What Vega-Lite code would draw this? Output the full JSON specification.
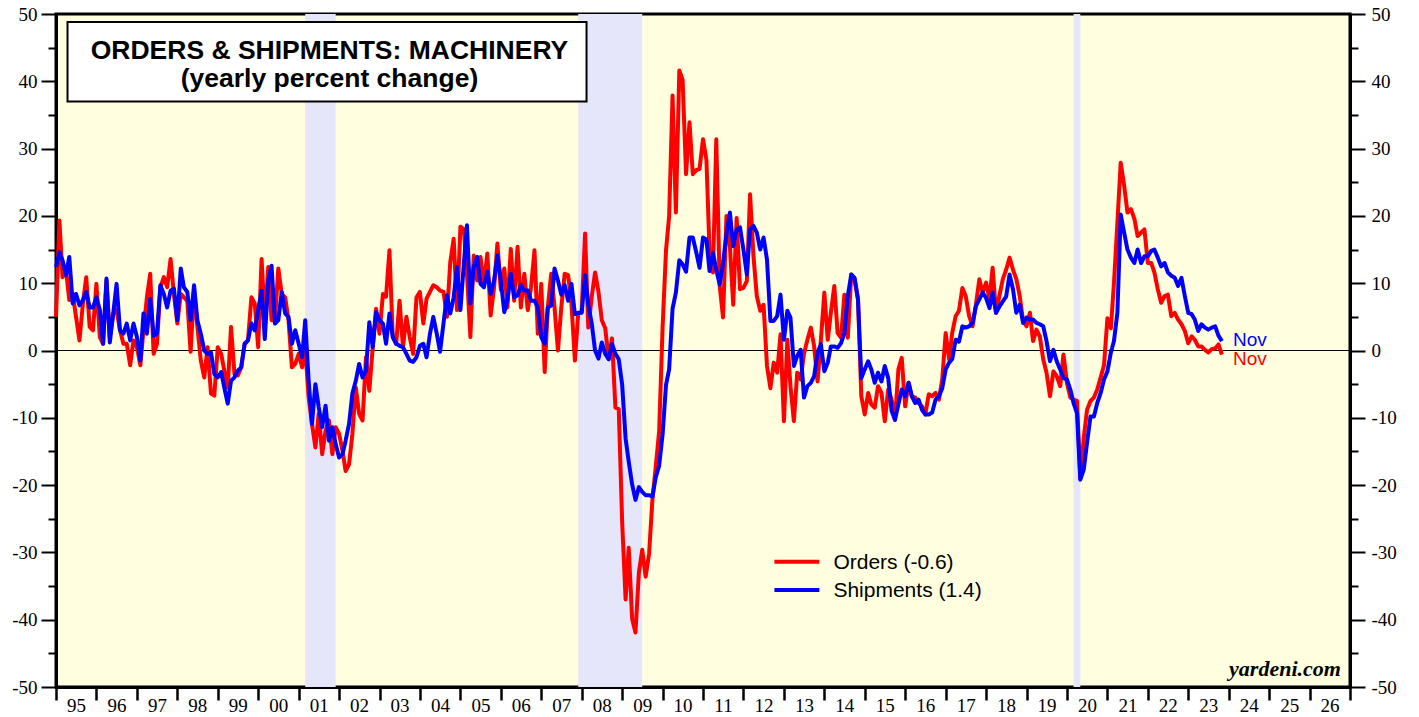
{
  "$schema": "https://vega.github.io/schema/vega-lite/v6.json",
  "autosize": {"type": "none"},
  "padding": {"left": 56, "top": 14, "right": 69, "bottom": 30},
  "width": 1294,
  "height": 673,
  "background": "white",
  "config": {
    "view": {"stroke": "black", "strokeWidth": 3, "fill": "#FFFFE0"}
  },
  "data": {
    "format": {"parse": {"date": "utc:'%Y-%m'"}},
    "values": [
      {"date":"1995-01","Orders":5,"Shipments":12.4},{"date":"1995-02","Orders":19.3,"Shipments":14.6},{"date":"1995-03","Orders":10.9,"Shipments":13.4},{"date":"1995-04","Orders":12,"Shipments":11.2},{"date":"1995-05","Orders":7.5,"Shipments":13.9},{"date":"1995-06","Orders":8.4,"Shipments":7},{"date":"1995-07","Orders":5,"Shipments":8.4},{"date":"1995-08","Orders":1.5,"Shipments":6.7},{"date":"1995-09","Orders":7,"Shipments":7.5},{"date":"1995-10","Orders":10.9,"Shipments":8.7},{"date":"1995-11","Orders":3.5,"Shipments":6.4},{"date":"1995-12","Orders":3,"Shipments":6.4},
      {"date":"1996-01","Orders":9.9,"Shipments":7.9},{"date":"1996-02","Orders":2,"Shipments":6},{"date":"1996-03","Orders":1,"Shipments":1},{"date":"1996-04","Orders":10.4,"Shipments":10.7},{"date":"1996-05","Orders":2,"Shipments":1.2},{"date":"1996-06","Orders":5.5,"Shipments":5.5},{"date":"1996-07","Orders":6,"Shipments":9.9},{"date":"1996-08","Orders":3,"Shipments":3},{"date":"1996-09","Orders":1,"Shipments":2.5},{"date":"1996-10","Orders":1,"Shipments":4},{"date":"1996-11","Orders":-2.2,"Shipments":1.5},{"date":"1996-12","Orders":1.5,"Shipments":4},
      {"date":"1997-01","Orders":0.5,"Shipments":2},{"date":"1997-02","Orders":-2.2,"Shipments":-1.5},{"date":"1997-03","Orders":3,"Shipments":5.5},{"date":"1997-04","Orders":7.9,"Shipments":2.5},{"date":"1997-05","Orders":11.4,"Shipments":7.7},{"date":"1997-06","Orders":-0.5,"Shipments":2.2},{"date":"1997-07","Orders":1,"Shipments":2.5},{"date":"1997-08","Orders":9.4,"Shipments":9.7},{"date":"1997-09","Orders":10.9,"Shipments":8.4},{"date":"1997-10","Orders":9.4,"Shipments":6.4},{"date":"1997-11","Orders":13.6,"Shipments":8.9},{"date":"1997-12","Orders":8.4,"Shipments":9.2},
      {"date":"1998-01","Orders":4,"Shipments":4.5},{"date":"1998-02","Orders":8.4,"Shipments":12.2},{"date":"1998-03","Orders":7.9,"Shipments":9.4},{"date":"1998-04","Orders":7.4,"Shipments":8.7},{"date":"1998-05","Orders":-0.2,"Shipments":4.5},{"date":"1998-06","Orders":9,"Shipments":9.7},{"date":"1998-07","Orders":3.5,"Shipments":4.5},{"date":"1998-08","Orders":-1.5,"Shipments":2.5},{"date":"1998-09","Orders":-4,"Shipments":0},{"date":"1998-10","Orders":0.5,"Shipments":-0.5},{"date":"1998-11","Orders":-6.4,"Shipments":-0.3},{"date":"1998-12","Orders":-6.7,"Shipments":-3.5},
      {"date":"1999-01","Orders":0.5,"Shipments":-4},{"date":"1999-02","Orders":-0.5,"Shipments":-3.2},{"date":"1999-03","Orders":-3,"Shipments":-5.5},{"date":"1999-04","Orders":-5.5,"Shipments":-7.9},{"date":"1999-05","Orders":3.5,"Shipments":-4.5},{"date":"1999-06","Orders":-3.5,"Shipments":-4},{"date":"1999-07","Orders":-3.7,"Shipments":-3},{"date":"1999-08","Orders":-2.5,"Shipments":-2.5},{"date":"1999-09","Orders":1,"Shipments":1},{"date":"1999-10","Orders":1.5,"Shipments":1.5},{"date":"1999-11","Orders":7.9,"Shipments":4},{"date":"1999-12","Orders":7,"Shipments":3},
      {"date":"2000-01","Orders":0.5,"Shipments":6},{"date":"2000-02","Orders":13.6,"Shipments":8.9},{"date":"2000-03","Orders":4.5,"Shipments":1.7},{"date":"2000-04","Orders":12.4,"Shipments":10.4},{"date":"2000-05","Orders":4.5,"Shipments":12.6},{"date":"2000-06","Orders":4.5,"Shipments":4},{"date":"2000-07","Orders":12.2,"Shipments":4.5},{"date":"2000-08","Orders":8.4,"Shipments":8.7},{"date":"2000-09","Orders":7.9,"Shipments":5.5},{"date":"2000-10","Orders":4.5,"Shipments":5},{"date":"2000-11","Orders":-2.5,"Shipments":1},{"date":"2000-12","Orders":-2,"Shipments":3},
      {"date":"2001-01","Orders":-0.5,"Shipments":1},{"date":"2001-02","Orders":-2.5,"Shipments":-1},{"date":"2001-03","Orders":0.5,"Shipments":4.5},{"date":"2001-04","Orders":-7,"Shipments":-4.5},{"date":"2001-05","Orders":-10.9,"Shipments":-10.9},{"date":"2001-06","Orders":-14.4,"Shipments":-5},{"date":"2001-07","Orders":-9.4,"Shipments":-8.4},{"date":"2001-08","Orders":-15.4,"Shipments":-11.4},{"date":"2001-09","Orders":-11.9,"Shipments":-8.2},{"date":"2001-10","Orders":-10.4,"Shipments":-13.4},{"date":"2001-11","Orders":-15.4,"Shipments":-11.4},{"date":"2001-12","Orders":-11.4,"Shipments":-13.9},
      {"date":"2002-01","Orders":-12.4,"Shipments":-15.9},{"date":"2002-02","Orders":-14.9,"Shipments":-15.4},{"date":"2002-03","Orders":-17.9,"Shipments":-13.4},{"date":"2002-04","Orders":-16.9,"Shipments":-10.9},{"date":"2002-05","Orders":-12.4,"Shipments":-6.4},{"date":"2002-06","Orders":-5.5,"Shipments":-4.5},{"date":"2002-07","Orders":-9.4,"Shipments":-2},{"date":"2002-08","Orders":-10.4,"Shipments":-4},{"date":"2002-09","Orders":-1,"Shipments":-3},{"date":"2002-10","Orders":-6,"Shipments":4.2},{"date":"2002-11","Orders":0.5,"Shipments":0.5},{"date":"2002-12","Orders":6.2,"Shipments":5.7},
      {"date":"2003-01","Orders":2.5,"Shipments":4.5},{"date":"2003-02","Orders":8.4,"Shipments":4},{"date":"2003-03","Orders":8,"Shipments":1},{"date":"2003-04","Orders":14.9,"Shipments":5.5},{"date":"2003-05","Orders":2,"Shipments":2},{"date":"2003-06","Orders":1,"Shipments":1},{"date":"2003-07","Orders":7.4,"Shipments":0.7},{"date":"2003-08","Orders":0.5,"Shipments":0.5},{"date":"2003-09","Orders":5,"Shipments":-0.5},{"date":"2003-10","Orders":2,"Shipments":-1.5},{"date":"2003-11","Orders":-0.5,"Shipments":-1.7},{"date":"2003-12","Orders":7.9,"Shipments":-1},
      {"date":"2004-01","Orders":8.7,"Shipments":0.7},{"date":"2004-02","Orders":4,"Shipments":1},{"date":"2004-03","Orders":7.7,"Shipments":-1},{"date":"2004-04","Orders":8.7,"Shipments":2.5},{"date":"2004-05","Orders":9.7,"Shipments":5},{"date":"2004-06","Orders":9.4,"Shipments":2.5},{"date":"2004-07","Orders":8.9,"Shipments":-0.2},{"date":"2004-08","Orders":8.7,"Shipments":4},{"date":"2004-09","Orders":5,"Shipments":8.2},{"date":"2004-10","Orders":13.1,"Shipments":5.5},{"date":"2004-11","Orders":16.6,"Shipments":7.9},{"date":"2004-12","Orders":6,"Shipments":12.4},
      {"date":"2005-01","Orders":18.4,"Shipments":6},{"date":"2005-02","Orders":18,"Shipments":12.9},{"date":"2005-03","Orders":11.4,"Shipments":18.6},{"date":"2005-04","Orders":2,"Shipments":7},{"date":"2005-05","Orders":14.1,"Shipments":12.4},{"date":"2005-06","Orders":10.4,"Shipments":13.9},{"date":"2005-07","Orders":13.9,"Shipments":9.9},{"date":"2005-08","Orders":9.9,"Shipments":9.4},{"date":"2005-09","Orders":14.4,"Shipments":11.7},{"date":"2005-10","Orders":5.2,"Shipments":8.4},{"date":"2005-11","Orders":9.4,"Shipments":10.4},{"date":"2005-12","Orders":15.9,"Shipments":14.1},
      {"date":"2006-01","Orders":9,"Shipments":10.4},{"date":"2006-02","Orders":12.2,"Shipments":5.7},{"date":"2006-03","Orders":6.4,"Shipments":7.4},{"date":"2006-04","Orders":15.1,"Shipments":11.4},{"date":"2006-05","Orders":7.4,"Shipments":7.9},{"date":"2006-06","Orders":15.4,"Shipments":8.2},{"date":"2006-07","Orders":6.4,"Shipments":9.7},{"date":"2006-08","Orders":11.4,"Shipments":8.9},{"date":"2006-09","Orders":6,"Shipments":8.9},{"date":"2006-10","Orders":9.4,"Shipments":7.4},{"date":"2006-11","Orders":14.9,"Shipments":7.4},{"date":"2006-12","Orders":2.5,"Shipments":6.4},
      {"date":"2007-01","Orders":9.9,"Shipments":2},{"date":"2007-02","Orders":-3.2,"Shipments":1},{"date":"2007-03","Orders":6.4,"Shipments":6.4},{"date":"2007-04","Orders":11.4,"Shipments":6.7},{"date":"2007-05","Orders":6.4,"Shipments":12.2},{"date":"2007-06","Orders":0,"Shipments":10.4},{"date":"2007-07","Orders":6.4,"Shipments":8.3},{"date":"2007-08","Orders":11.4,"Shipments":9.7},{"date":"2007-09","Orders":11.2,"Shipments":7.4},{"date":"2007-10","Orders":6.9,"Shipments":9.9},{"date":"2007-11","Orders":-1.5,"Shipments":5.4},{"date":"2007-12","Orders":5.5,"Shipments":5.6},
      {"date":"2008-01","Orders":5.7,"Shipments":5.6},{"date":"2008-02","Orders":17.4,"Shipments":11.2},{"date":"2008-03","Orders":3.4,"Shipments":6.8},{"date":"2008-04","Orders":8,"Shipments":4},{"date":"2008-05","Orders":11.6,"Shipments":0},{"date":"2008-06","Orders":8.7,"Shipments":-1.2},{"date":"2008-07","Orders":4.5,"Shipments":1.2},{"date":"2008-08","Orders":3.3,"Shipments":-0.5},{"date":"2008-09","Orders":-1.3,"Shipments":-1.3},{"date":"2008-10","Orders":1.8,"Shipments":1},{"date":"2008-11","Orders":-8.5,"Shipments":-0.5},{"date":"2008-12","Orders":-8.7,"Shipments":-1.3},
      {"date":"2009-01","Orders":-25.6,"Shipments":-5.1},{"date":"2009-02","Orders":-37,"Shipments":-13.1},{"date":"2009-03","Orders":-29.3,"Shipments":-16.5},{"date":"2009-04","Orders":-39.9,"Shipments":-19.9},{"date":"2009-05","Orders":-41.9,"Shipments":-22.2},{"date":"2009-06","Orders":-33,"Shipments":-20.3},{"date":"2009-07","Orders":-29.6,"Shipments":-21},{"date":"2009-08","Orders":-33.6,"Shipments":-21.5},{"date":"2009-09","Orders":-30.2,"Shipments":-21.5},{"date":"2009-10","Orders":-22.2,"Shipments":-21.7},{"date":"2009-11","Orders":-17.1,"Shipments":-18.8},{"date":"2009-12","Orders":-12,"Shipments":-17.1},
      {"date":"2010-01","Orders":3.4,"Shipments":-12.5},{"date":"2010-02","Orders":14.9,"Shipments":-5.1},{"date":"2010-03","Orders":19.9,"Shipments":-2.8},{"date":"2010-04","Orders":37.9,"Shipments":6.2},{"date":"2010-05","Orders":20.5,"Shipments":8.6},{"date":"2010-06","Orders":41.6,"Shipments":13.4},{"date":"2010-07","Orders":40.2,"Shipments":12.8},{"date":"2010-08","Orders":26.2,"Shipments":11.7},{"date":"2010-09","Orders":33.9,"Shipments":16.8},{"date":"2010-10","Orders":26.2,"Shipments":16.8},{"date":"2010-11","Orders":26.8,"Shipments":14.6},{"date":"2010-12","Orders":27,"Shipments":12.3},
      {"date":"2011-01","Orders":31.4,"Shipments":16.8},{"date":"2011-02","Orders":28.3,"Shipments":16.5},{"date":"2011-03","Orders":14.9,"Shipments":11.8},{"date":"2011-04","Orders":11.6,"Shipments":14.5},{"date":"2011-05","Orders":31.4,"Shipments":12},{"date":"2011-06","Orders":9.6,"Shipments":9.8},{"date":"2011-07","Orders":4.9,"Shipments":13},{"date":"2011-08","Orders":20,"Shipments":17.3},{"date":"2011-09","Orders":15.5,"Shipments":20.5},{"date":"2011-10","Orders":6.8,"Shipments":15.5},{"date":"2011-11","Orders":19.7,"Shipments":18},{"date":"2011-12","Orders":9.1,"Shipments":18.3},
      {"date":"2012-01","Orders":9.3,"Shipments":15},{"date":"2012-02","Orders":10.3,"Shipments":11.3},{"date":"2012-03","Orders":23.2,"Shipments":18},{"date":"2012-04","Orders":14,"Shipments":18.5},{"date":"2012-05","Orders":8.1,"Shipments":17.5},{"date":"2012-06","Orders":5.9,"Shipments":15},{"date":"2012-07","Orders":6.8,"Shipments":16.8},{"date":"2012-08","Orders":-2.3,"Shipments":13.5},{"date":"2012-09","Orders":-5.6,"Shipments":4.4},{"date":"2012-10","Orders":-1.8,"Shipments":4.4},{"date":"2012-11","Orders":-3.3,"Shipments":5.1},{"date":"2012-12","Orders":2.4,"Shipments":8.3},
      {"date":"2013-01","Orders":-10.5,"Shipments":1.6},{"date":"2013-02","Orders":1.6,"Shipments":5.9},{"date":"2013-03","Orders":-5.3,"Shipments":4.9},{"date":"2013-04","Orders":-10.5,"Shipments":-2.3},{"date":"2013-05","Orders":-3.3,"Shipments":-0.8},{"date":"2013-06","Orders":-4.3,"Shipments":0.1},{"date":"2013-07","Orders":-0.5,"Shipments":-7},{"date":"2013-08","Orders":1.6,"Shipments":-5.3},{"date":"2013-09","Orders":3.4,"Shipments":-4.8},{"date":"2013-10","Orders":0.6,"Shipments":-3.8},{"date":"2013-11","Orders":-4.6,"Shipments":-0.3},{"date":"2013-12","Orders":1.6,"Shipments":0.9},
      {"date":"2014-01","Orders":8.6,"Shipments":-3.1},{"date":"2014-02","Orders":1.6,"Shipments":-1.8},{"date":"2014-03","Orders":5.6,"Shipments":0.6},{"date":"2014-04","Orders":9.6,"Shipments":0.6},{"date":"2014-05","Orders":2.6,"Shipments":0.4},{"date":"2014-06","Orders":1.9,"Shipments":1.1},{"date":"2014-07","Orders":8.3,"Shipments":2.6},{"date":"2014-08","Orders":1.9,"Shipments":8.1},{"date":"2014-09","Orders":11.3,"Shipments":11.3},{"date":"2014-10","Orders":10.6,"Shipments":10.8},{"date":"2014-11","Orders":7.6,"Shipments":7.6},{"date":"2014-12","Orders":-6.8,"Shipments":-4.1},
      {"date":"2015-01","Orders":-9.5,"Shipments":-2.8},{"date":"2015-02","Orders":-6.3,"Shipments":-1.6},{"date":"2015-03","Orders":-8,"Shipments":-2.8},{"date":"2015-04","Orders":-8.5,"Shipments":-4.8},{"date":"2015-05","Orders":-5.3,"Shipments":-3.3},{"date":"2015-06","Orders":-6.3,"Shipments":-4.6},{"date":"2015-07","Orders":-10.5,"Shipments":-2.3},{"date":"2015-08","Orders":-5.8,"Shipments":-4.1},{"date":"2015-09","Orders":-7.3,"Shipments":-9},{"date":"2015-10","Orders":-10.3,"Shipments":-10.3},{"date":"2015-11","Orders":-2.8,"Shipments":-8},{"date":"2015-12","Orders":-1.1,"Shipments":-5.8},
      {"date":"2016-01","Orders":-8.3,"Shipments":-6.8},{"date":"2016-02","Orders":-4.8,"Shipments":-4.8},{"date":"2016-03","Orders":-6.8,"Shipments":-6.8},{"date":"2016-04","Orders":-7,"Shipments":-7.8},{"date":"2016-05","Orders":-7.8,"Shipments":-7.3},{"date":"2016-06","Orders":-8.3,"Shipments":-8.8},{"date":"2016-07","Orders":-9.5,"Shipments":-9.5},{"date":"2016-08","Orders":-6.5,"Shipments":-9.5},{"date":"2016-09","Orders":-6.8,"Shipments":-9.2},{"date":"2016-10","Orders":-6.3,"Shipments":-7.3},{"date":"2016-11","Orders":-7.3,"Shipments":-6.8},{"date":"2016-12","Orders":-4.3,"Shipments":-5.6},
      {"date":"2017-01","Orders":2.6,"Shipments":-2.8},{"date":"2017-02","Orders":-1.3,"Shipments":-1.8},{"date":"2017-03","Orders":2.6,"Shipments":-1.3},{"date":"2017-04","Orders":5.1,"Shipments":1.6},{"date":"2017-05","Orders":5.9,"Shipments":1.3},{"date":"2017-06","Orders":9.3,"Shipments":3.6},{"date":"2017-07","Orders":8.1,"Shipments":3.4},{"date":"2017-08","Orders":5.1,"Shipments":3.6},{"date":"2017-09","Orders":3.6,"Shipments":4.1},{"date":"2017-10","Orders":6.8,"Shipments":6.6},{"date":"2017-11","Orders":10.6,"Shipments":7.6},{"date":"2017-12","Orders":8.6,"Shipments":8.6},
      {"date":"2018-01","Orders":10.1,"Shipments":7.8},{"date":"2018-02","Orders":7.6,"Shipments":6.3},{"date":"2018-03","Orders":12.3,"Shipments":8.6},{"date":"2018-04","Orders":5.6,"Shipments":5.6},{"date":"2018-05","Orders":8.1,"Shipments":6.5},{"date":"2018-06","Orders":10.6,"Shipments":7.3},{"date":"2018-07","Orders":12,"Shipments":8},{"date":"2018-08","Orders":13.8,"Shipments":11.3},{"date":"2018-09","Orders":12,"Shipments":9.1},{"date":"2018-10","Orders":10.6,"Shipments":5.6},{"date":"2018-11","Orders":8.1,"Shipments":6.8},{"date":"2018-12","Orders":4.4,"Shipments":4.1},
      {"date":"2019-01","Orders":3.6,"Shipments":4.9},{"date":"2019-02","Orders":5.6,"Shipments":4.6},{"date":"2019-03","Orders":1.4,"Shipments":4.6},{"date":"2019-04","Orders":3.1,"Shipments":4.1},{"date":"2019-05","Orders":2.1,"Shipments":3.9},{"date":"2019-06","Orders":-1.3,"Shipments":3.6},{"date":"2019-07","Orders":-3.3,"Shipments":1.4},{"date":"2019-08","Orders":-6.8,"Shipments":-1.6},{"date":"2019-09","Orders":-3.1,"Shipments":0.1},{"date":"2019-10","Orders":-3.8,"Shipments":-1.6},{"date":"2019-11","Orders":-5.3,"Shipments":-2.8},{"date":"2019-12","Orders":-0.6,"Shipments":-4.1},
      {"date":"2020-01","Orders":-4.8,"Shipments":-4.3},{"date":"2020-02","Orders":-7,"Shipments":-5.8},{"date":"2020-03","Orders":-7.3,"Shipments":-7.8},{"date":"2020-04","Orders":-7.5,"Shipments":-9.3},{"date":"2020-05","Orders":-19,"Shipments":-19.2},{"date":"2020-06","Orders":-13,"Shipments":-17.7},{"date":"2020-07","Orders":-8.8,"Shipments":-13.7},{"date":"2020-08","Orders":-7.5,"Shipments":-9.8},{"date":"2020-09","Orders":-7,"Shipments":-9.8},{"date":"2020-10","Orders":-5.8,"Shipments":-7.8},{"date":"2020-11","Orders":-4,"Shipments":-6.3},{"date":"2020-12","Orders":-2.2,"Shipments":-4.3},
      {"date":"2021-01","Orders":4.8,"Shipments":-3.1},{"date":"2021-02","Orders":3.3,"Shipments":-0.3},{"date":"2021-03","Orders":10,"Shipments":1.4},{"date":"2021-04","Orders":19,"Shipments":5.6},{"date":"2021-05","Orders":27.9,"Shipments":20.2},{"date":"2021-06","Orders":24.5,"Shipments":17.5},{"date":"2021-07","Orders":20.5,"Shipments":15},{"date":"2021-08","Orders":21,"Shipments":13.8},{"date":"2021-09","Orders":19.6,"Shipments":13},{"date":"2021-10","Orders":17,"Shipments":15},{"date":"2021-11","Orders":17.5,"Shipments":13},{"date":"2021-12","Orders":18,"Shipments":14},
      {"date":"2022-01","Orders":13,"Shipments":14},{"date":"2022-02","Orders":13,"Shipments":14.8},{"date":"2022-03","Orders":11.6,"Shipments":15},{"date":"2022-04","Orders":9.1,"Shipments":13.8},{"date":"2022-05","Orders":7.1,"Shipments":12.5},{"date":"2022-06","Orders":8.1,"Shipments":13},{"date":"2022-07","Orders":8.3,"Shipments":11.6},{"date":"2022-08","Orders":5.1,"Shipments":11.1},{"date":"2022-09","Orders":5.6,"Shipments":10.8},{"date":"2022-10","Orders":4.6,"Shipments":9.6},{"date":"2022-11","Orders":3.9,"Shipments":10.8},{"date":"2022-12","Orders":2.9,"Shipments":8.1},
      {"date":"2023-01","Orders":1.1,"Shipments":5.6},{"date":"2023-02","Orders":2.1,"Shipments":5.4},{"date":"2023-03","Orders":1.6,"Shipments":4.6},{"date":"2023-04","Orders":0.6,"Shipments":2.9},{"date":"2023-05","Orders":0.6,"Shipments":3.9},{"date":"2023-06","Orders":0.1,"Shipments":3.4},{"date":"2023-07","Orders":-0.3,"Shipments":3.1},{"date":"2023-08","Orders":0.2,"Shipments":3.4},{"date":"2023-09","Orders":0.3,"Shipments":3.6},{"date":"2023-10","Orders":0.9,"Shipments":2.2},{"date":"2023-11","Orders":-0.6,"Shipments":1.4}
    ]
  },
  "resolve": {"axis": {"x": "independent", "y": "independent"}},
  "layer": [
    {
      "data": {
        "format": {"parse": {"start": "utc:'%Y-%m'", "end": "utc:'%Y-%m'"}},
        "values": [
          {"start": "2001-03", "end": "2001-12"},
          {"start": "2007-12", "end": "2009-07"},
          {"start": "2020-03", "end": "2020-05"}
        ]
      },
      "mark": {"type": "rect", "fill": "#E6E6FA"},
      "encoding": {
        "x": {
          "field": "start", "type": "temporal",
          "scale": {"type": "utc", "domain": [{"year": 1995, "month": 1, "date": 1, "utc": true}, {"year": 2027, "month": 1, "date": 1, "utc": true}]},
          "axis": {
            "orient": "bottom", "title": null, "grid": false,
            "tickCount": 32,
            "format": "%y",
            "labelExpr": "datum.label === '27' ? '' : datum.label",
            "tickSize": 13, "tickWidth": 2.5, "tickColor": "black",
            "domainColor": "black", "domainWidth": 3,
            "labelOffset": 20, "labelPadding": -4, "labelFont": "Liberation Serif", "labelFontSize": 19, "labelColor": "black",
            "labelFlush": false, "labelOverlap": false, "labelBound": false
          }
        },
        "x2": {"field": "end"}
      }
    },
    {
      "data": {"values": [{}]},
      "mark": {"type": "rect", "fill": "white", "stroke": "black", "strokeWidth": 2},
      "encoding": {
        "x": {"datum": {"year": 1995, "month": 4, "date": 15, "utc": true}, "type": "temporal", "axis": null},
        "x2": {"datum": {"year": 2008, "month": 2, "date": 14, "utc": true}},
        "y": {"datum": 48.8, "type": "quantitative", "axis": null, "scale": {"domain": [-50, 50]}},
        "y2": {"datum": 37.0}
      }
    },
    {
      "data": {"values": [{}]},
      "mark": {"type": "text", "font": "Liberation Sans", "fontWeight": "bold", "fontSize": 26.5, "color": "black", "align": "center", "baseline": "alphabetic"},
      "encoding": {
        "x": {"datum": {"year": 2001, "month": 10, "date": 6, "utc": true}, "type": "temporal", "axis": null},
        "y": {"datum": 43.3, "type": "quantitative", "axis": null, "scale": {"domain": [-50, 50]}},
        "text": {"value": "ORDERS & SHIPMENTS: MACHINERY"}
      }
    },
    {
      "data": {"values": [{}]},
      "mark": {"type": "text", "font": "Liberation Sans", "fontWeight": "bold", "fontSize": 26.5, "color": "black", "align": "center", "baseline": "alphabetic"},
      "encoding": {
        "x": {"datum": {"year": 2001, "month": 10, "date": 6, "utc": true}, "type": "temporal", "axis": null},
        "y": {"datum": 39.15, "type": "quantitative", "axis": null, "scale": {"domain": [-50, 50]}},
        "text": {"value": "(yearly percent change)"}
      }
    },
    {
      "data": {"values": [{}]},
      "mark": {"type": "rule", "color": "black", "strokeWidth": 1.2},
      "encoding": {
        "y": {"datum": 0, "type": "quantitative", "axis": null, "scale": {"domain": [-50, 50]}}
      }
    },
    {
      "mark": {"type": "line", "color": "#FF0000", "strokeWidth": 4, "strokeJoin": "round"},
      "encoding": {
        "x": {"field": "date", "type": "temporal", "axis": null},
        "y": {
          "field": "Orders", "type": "quantitative",
          "scale": {"domain": [-50, 50]},
          "axis": {
            "orient": "left", "title": null, "grid": false,
            "values": [-50, -45, -40, -35, -30, -25, -20, -15, -10, -5, 0, 5, 10, 15, 20, 25, 30, 35, 40, 45, 50],
            "tickSize": {"condition": {"test": "datum.value % 10 === 0", "value": 15}, "value": 8},
            "labelExpr": "datum.value % 10 === 0 ? '' + datum.value : ''",
            "tickWidth": 2, "tickColor": "black", "domainColor": "black", "domainWidth": 3,
            "labelPadding": 4, "labelFont": "Liberation Serif", "labelFontSize": 19, "labelColor": "black",
            "labelFlush": false, "labelOverlap": false
          }
        }
      }
    },
    {
      "mark": {"type": "line", "color": "#0000FF", "strokeWidth": 4, "strokeJoin": "round"},
      "encoding": {
        "x": {"field": "date", "type": "temporal", "axis": null},
        "y": {
          "field": "Shipments", "type": "quantitative",
          "scale": {"domain": [-50, 50]},
          "axis": {
            "orient": "right", "title": null, "grid": false,
            "values": [-50, -45, -40, -35, -30, -25, -20, -15, -10, -5, 0, 5, 10, 15, 20, 25, 30, 35, 40, 45, 50],
            "tickSize": {"condition": {"test": "datum.value % 10 === 0", "value": 15}, "value": 8},
            "labelExpr": "datum.value % 10 === 0 ? '' + datum.value : ''",
            "tickWidth": 2, "tickColor": "black", "domainColor": "black", "domainWidth": 3,
            "labelPadding": 6, "labelFont": "Liberation Serif", "labelFontSize": 19, "labelColor": "black",
            "labelFlush": false, "labelOverlap": false
          }
        }
      }
    },
    {
      "data": {"values": [{}]},
      "mark": {"type": "text", "color": "#0000FF", "font": "Liberation Sans", "fontSize": 19, "align": "left", "baseline": "alphabetic", "dx": 11, "dy": 5},
      "encoding": {
        "x": {"datum": {"year": 2023, "month": 11, "date": 1, "utc": true}, "type": "temporal", "axis": null},
        "y": {"datum": 1.4, "type": "quantitative", "axis": null, "scale": {"domain": [-50, 50]}},
        "text": {"value": "Nov"}
      }
    },
    {
      "data": {"values": [{}]},
      "mark": {"type": "text", "color": "#FF0000", "font": "Liberation Sans", "fontSize": 19, "align": "left", "baseline": "alphabetic", "dx": 11, "dy": 10},
      "encoding": {
        "x": {"datum": {"year": 2023, "month": 11, "date": 1, "utc": true}, "type": "temporal", "axis": null},
        "y": {"datum": -0.6, "type": "quantitative", "axis": null, "scale": {"domain": [-50, 50]}},
        "text": {"value": "Nov"}
      }
    },
    {
      "data": {"values": [{}]},
      "mark": {"type": "rule", "color": "#FF0000", "strokeWidth": 4},
      "encoding": {
        "x": {"datum": {"year": 2012, "month": 10, "date": 7, "utc": true}, "type": "temporal", "axis": null},
        "x2": {"datum": {"year": 2013, "month": 11, "date": 17, "utc": true}},
        "y": {"datum": -31.38, "type": "quantitative", "axis": null, "scale": {"domain": [-50, 50]}}
      }
    },
    {
      "data": {"values": [{}]},
      "mark": {"type": "rule", "color": "#0000FF", "strokeWidth": 4},
      "encoding": {
        "x": {"datum": {"year": 2012, "month": 10, "date": 7, "utc": true}, "type": "temporal", "axis": null},
        "x2": {"datum": {"year": 2013, "month": 11, "date": 17, "utc": true}},
        "y": {"datum": -35.59, "type": "quantitative", "axis": null, "scale": {"domain": [-50, 50]}}
      }
    },
    {
      "data": {"values": [{}]},
      "mark": {"type": "text", "font": "Liberation Sans", "fontSize": 21, "color": "black", "align": "left", "baseline": "alphabetic"},
      "encoding": {
        "x": {"datum": {"year": 2014, "month": 3, "date": 24, "utc": true}, "type": "temporal", "axis": null},
        "y": {"datum": -32.5, "type": "quantitative", "axis": null, "scale": {"domain": [-50, 50]}},
        "text": {"value": "Orders (-0.6)"}
      }
    },
    {
      "data": {"values": [{}]},
      "mark": {"type": "text", "font": "Liberation Sans", "fontSize": 21, "color": "black", "align": "left", "baseline": "alphabetic"},
      "encoding": {
        "x": {"datum": {"year": 2014, "month": 3, "date": 24, "utc": true}, "type": "temporal", "axis": null},
        "y": {"datum": -36.67, "type": "quantitative", "axis": null, "scale": {"domain": [-50, 50]}},
        "text": {"value": "Shipments (1.4)"}
      }
    },
    {
      "data": {"values": [{}]},
      "mark": {"type": "text", "font": "Liberation Serif", "fontSize": 22, "fontWeight": "bold", "fontStyle": "italic", "color": "black", "align": "right", "baseline": "alphabetic"},
      "encoding": {
        "x": {"datum": {"year": 2026, "month": 10, "date": 11, "utc": true}, "type": "temporal", "axis": null},
        "y": {"datum": -48.37, "type": "quantitative", "axis": null, "scale": {"domain": [-50, 50]}},
        "text": {"value": "yardeni.com"}
      }
    }
  ]
}
